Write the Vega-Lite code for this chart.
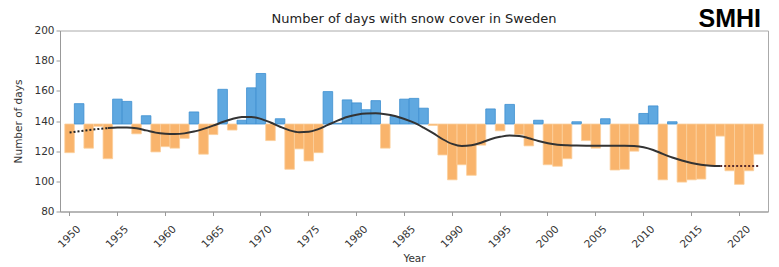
{
  "$schema": "https://vega.github.io/schema/vega-lite/v6.json",
  "width": 708,
  "height": 181,
  "autosize": {"type": "none"},
  "padding": {"left": 60, "top": 30.5, "right": 11, "bottom": 55.5},
  "background": "white",
  "config": {
    "view": {"stroke": "#aaa", "strokeWidth": 1},
    "axis": {"labelFont": "DejaVu Sans", "titleFont": "DejaVu Sans", "labelFontSize": 10.5, "titleFontSize": 10.5, "titleFontWeight": "normal", "labelColor": "#333", "titleColor": "#333", "domainColor": "#999", "tickColor": "#999", "grid": false},
    "axisY": {"tickCount": 7, "labelOverlap": false, "tickSize": 4, "labelPadding": 2, "titlePadding": 10}
  },
  "data": {"values": [
    {"year": 1950, "days": 119, "trend": 132.3},
    {"year": 1951, "days": 151.5, "trend": 133.2},
    {"year": 1952, "days": 122, "trend": 134.0},
    {"year": 1953, "days": 136.5, "trend": 134.7},
    {"year": 1954, "days": 115, "trend": 135.3},
    {"year": 1955, "days": 154.5, "trend": 135.7},
    {"year": 1956, "days": 153, "trend": 135.7},
    {"year": 1957, "days": 131.5, "trend": 135.2},
    {"year": 1958, "days": 143.5, "trend": 133.8},
    {"year": 1959, "days": 119.5, "trend": 132.3},
    {"year": 1960, "days": 123, "trend": 131.6},
    {"year": 1961, "days": 122, "trend": 131.4},
    {"year": 1962, "days": 128.5, "trend": 131.8},
    {"year": 1963, "days": 146, "trend": 133.0},
    {"year": 1964, "days": 118, "trend": 134.8},
    {"year": 1965, "days": 131, "trend": 136.9},
    {"year": 1966, "days": 161, "trend": 139.3},
    {"year": 1967, "days": 134, "trend": 141.3},
    {"year": 1968, "days": 140.5, "trend": 142.6},
    {"year": 1969, "days": 162, "trend": 142.7},
    {"year": 1970, "days": 171.5, "trend": 141.4},
    {"year": 1971, "days": 127, "trend": 139.0},
    {"year": 1972, "days": 141.5, "trend": 136.2},
    {"year": 1973, "days": 108, "trend": 133.8},
    {"year": 1974, "days": 121.5, "trend": 132.6},
    {"year": 1975, "days": 113.5, "trend": 132.8},
    {"year": 1976, "days": 119, "trend": 134.6},
    {"year": 1977, "days": 159.5, "trend": 137.4},
    {"year": 1978, "days": 138.5, "trend": 140.2},
    {"year": 1979, "days": 154, "trend": 142.6},
    {"year": 1980, "days": 152, "trend": 144.2},
    {"year": 1981, "days": 147.5, "trend": 145.0},
    {"year": 1982, "days": 153.5, "trend": 145.1},
    {"year": 1983, "days": 122, "trend": 144.5},
    {"year": 1984, "days": 143, "trend": 143.3},
    {"year": 1985, "days": 154.5, "trend": 141.3},
    {"year": 1986, "days": 155, "trend": 138.9},
    {"year": 1987, "days": 148.5, "trend": 135.6},
    {"year": 1988, "days": 137, "trend": 131.9},
    {"year": 1989, "days": 117.5, "trend": 127.9},
    {"year": 1990, "days": 101, "trend": 124.8},
    {"year": 1991, "days": 111, "trend": 123.4},
    {"year": 1992, "days": 104, "trend": 123.9},
    {"year": 1993, "days": 124, "trend": 125.6},
    {"year": 1994, "days": 148, "trend": 127.9},
    {"year": 1995, "days": 133.5, "trend": 129.5},
    {"year": 1996, "days": 151, "trend": 130.4},
    {"year": 1997, "days": 131, "trend": 130.1},
    {"year": 1998, "days": 123.5, "trend": 128.6},
    {"year": 1999, "days": 140.5, "trend": 126.7},
    {"year": 2000, "days": 111, "trend": 125.2},
    {"year": 2001, "days": 110, "trend": 124.3},
    {"year": 2002, "days": 115, "trend": 123.9},
    {"year": 2003, "days": 139.5, "trend": 123.7},
    {"year": 2004, "days": 127, "trend": 123.6},
    {"year": 2005, "days": 122, "trend": 123.6},
    {"year": 2006, "days": 141.5, "trend": 123.6},
    {"year": 2007, "days": 107.5, "trend": 123.6},
    {"year": 2008, "days": 108, "trend": 123.6},
    {"year": 2009, "days": 120, "trend": 123.4},
    {"year": 2010, "days": 145, "trend": 122.6},
    {"year": 2011, "days": 150, "trend": 120.8},
    {"year": 2012, "days": 101, "trend": 118.2},
    {"year": 2013, "days": 139.5, "trend": 115.8},
    {"year": 2014, "days": 99.5, "trend": 113.8},
    {"year": 2015, "days": 101, "trend": 112.2},
    {"year": 2016, "days": 101.5, "trend": 111.0},
    {"year": 2017, "days": 110.5, "trend": 110.4},
    {"year": 2018, "days": 130, "trend": 110.2},
    {"year": 2019, "days": 107, "trend": 110.1},
    {"year": 2020, "days": 98, "trend": 110.1},
    {"year": 2021, "days": 107, "trend": 110.1},
    {"year": 2022, "days": 118, "trend": 110.1}
  ]},
  "encoding": {
    "x": {
      "field": "year", "type": "ordinal",
      "scale": {"paddingInner": 0, "paddingOuter": 0.5},
      "axis": {"values": [1950, 1955, 1960, 1965, 1970, 1975, 1980, 1985, 1990, 1995, 2000, 2005, 2010, 2015, 2020], "labelAngle": -45, "labelAlign": "center", "labelBaseline": "middle", "labelPadding": 21, "tickSize": 4, "title": "Year", "titlePadding": 4, "labelOverlap": false}
    }
  },
  "layer": [
    {
      "mark": {"type": "bar", "strokeWidth": 0.8},
      "encoding": {
        "y": {"field": "days", "type": "quantitative", "scale": {"domain": [80, 200]}, "axis": {"title": "Number of days"}},
        "y2": {"datum": 138},
        "fill": {"condition": {"test": "datum.days >= 138", "value": "#5fa8e0"}, "value": "#f9b46c"},
        "stroke": {"condition": {"test": "datum.days >= 138", "value": "#3e8fd0"}, "value": "#fbcf9c"}
      }
    },
    {
      "transform": [{"filter": "datum.year >= 1954 && datum.year <= 2018"}],
      "mark": {"type": "line", "color": "#333", "strokeWidth": 2, "interpolate": "monotone"},
      "encoding": {"y": {"field": "trend", "type": "quantitative", "axis": {"title": "Number of days"}}}
    },
    {
      "transform": [{"filter": "datum.year <= 1954"}],
      "mark": {"type": "line", "color": "#222", "strokeWidth": 2, "strokeDash": [2, 2], "interpolate": "monotone"},
      "encoding": {"y": {"field": "trend", "type": "quantitative", "axis": {"title": "Number of days"}}}
    },
    {
      "transform": [{"filter": "datum.year >= 2018"}],
      "mark": {"type": "line", "color": "#5a2a2a", "strokeWidth": 2, "strokeDash": [2, 2], "interpolate": "monotone"},
      "encoding": {"y": {"field": "trend", "type": "quantitative", "axis": {"title": "Number of days"}}}
    },
    {
      "data": {"values": [{"label": "Number of days with snow cover in Sweden"}]},
      "mark": {"type": "text", "font": "DejaVu Sans", "fontSize": 13, "color": "#222", "align": "center", "baseline": "alphabetic"},
      "encoding": {
        "x": {"datum": 1986, "type": "ordinal"},
        "y": {"datum": 205, "type": "quantitative", "axis": {"title": "Number of days"}},
        "text": {"field": "label"}
      }
    },
    {
      "data": {"values": [{"logo": "SMHI"}]},
      "mark": {"type": "text", "font": "Liberation Sans", "fontWeight": "bold", "fontSize": 25, "color": "#000", "align": "center", "baseline": "alphabetic", "letterSpacing": -2},
      "encoding": {
        "x": {"datum": 2019, "type": "ordinal"},
        "y": {"datum": 202, "type": "quantitative", "axis": {"title": "Number of days"}},
        "text": {"field": "logo"}
      }
    }
  ]
}
